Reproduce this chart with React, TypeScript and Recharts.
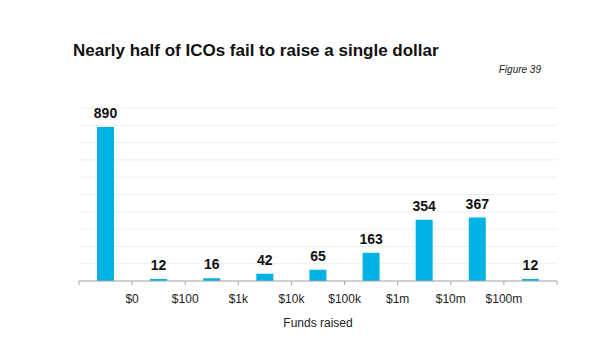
import React from "react";
import { BarChart, Bar, XAxis, YAxis, CartesianGrid, LabelList } from "recharts";

const categories = ["$0", "$0-100", "$100-1k", "$1k-10k", "$10k-100k", "$100k-1m", "$1m-10m", "$10m-100m", "$100m+"];
const icoCounts = [890, 12, 16, 42, 65, 163, 354, 367, 12];
const boundaryLabels = ["", "$0", "$100", "$1k", "$10k", "$100k", "$1m", "$10m", "$100m", ""];
const yTicks = [0, 100, 200, 300, 400, 500, 600, 700, 800, 900, 1000];

const data = categories.map((name, i) => ({ name, pos: i + 0.5, value: icoCounts[i] }));
const boundaryTicks = boundaryLabels.map((_, i) => i);

const FONT = "'Liberation Sans', Arial, Helvetica, sans-serif";

export default function App() {
  return (
    <div style={{ position: "absolute", left: 0, top: 0, width: 616, height: 349, background: "#fff", fontFamily: FONT }}>
      <div style={{ position: "absolute", left: 73, top: 41, fontSize: 17, fontWeight: 700, color: "#111", whiteSpace: "nowrap" }}>
        Nearly half of ICOs fail to raise a single dollar
      </div>
      <div style={{ position: "absolute", right: 616 - 541, top: 64, fontSize: 10, fontStyle: "italic", color: "#222", whiteSpace: "nowrap" }}>
        Figure 39
      </div>
      <BarChart
        width={616}
        height={349}
        data={data}
        margin={{ top: 108, right: 59, bottom: 38, left: 79 }}
      >
        <CartesianGrid vertical={false} stroke="#efefef" />
        <YAxis hide type="number" domain={[0, 1000]} ticks={yTicks} interval={0} allowDataOverflow />
        <XAxis
          dataKey="pos"
          type="number"
          domain={[0, 9]}
          ticks={boundaryTicks}
          interval={0}
          tickFormatter={(v: number) => boundaryLabels[v] ?? ""}
          stroke="#a8a8a8"
          tickSize={4}
          tick={{ fill: "#222", fontSize: 12, fontFamily: FONT }}
          tickMargin={9}
          height={30}
          label={{ value: "Funds raised", position: "insideBottom", offset: -16, fill: "#222", fontSize: 12, fontFamily: FONT }}
        />
        <Bar dataKey="value" fill="#00b2e3" barSize={17} isAnimationActive={false}>
          <LabelList dataKey="value" position="top" offset={9} fill="#111" fontSize={14} fontWeight={700} fontFamily={FONT} />
        </Bar>
      </BarChart>
    </div>
  );
}
